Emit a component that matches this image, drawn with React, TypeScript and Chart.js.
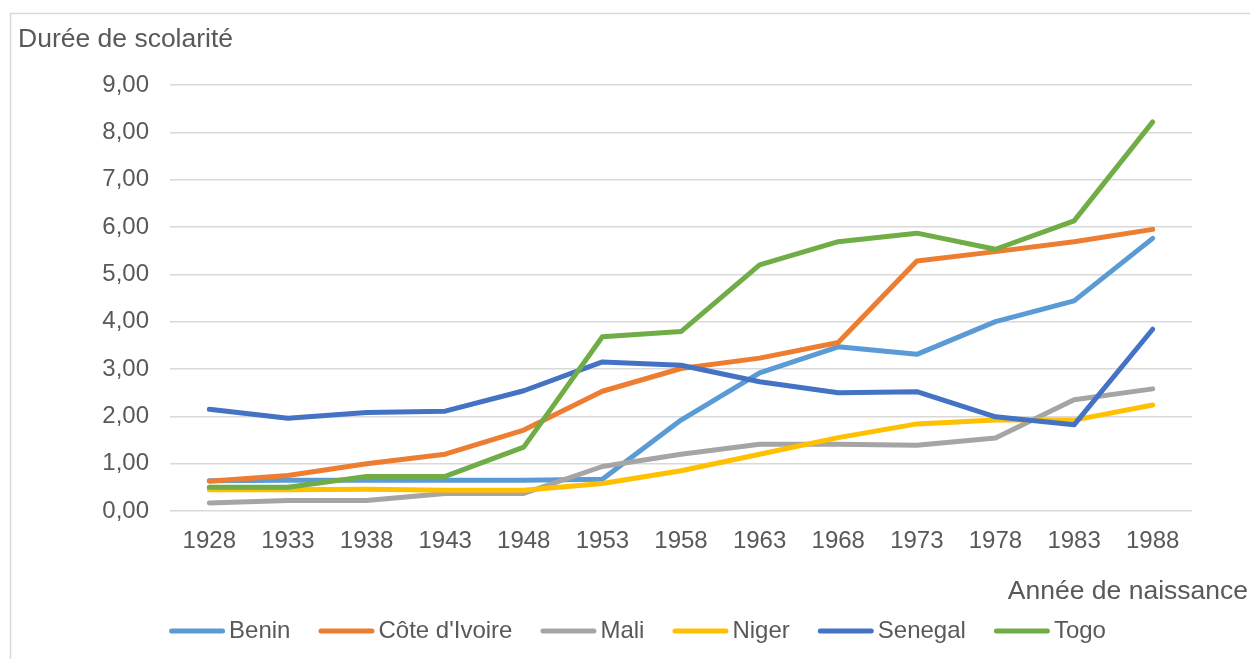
import React, { useEffect, useRef } from "react";
import { Chart, registerables } from "chart.js";

Chart.register(...registerables);

const years = ["1928", "1933", "1938", "1943", "1948", "1953", "1958", "1963", "1968", "1973", "1978", "1983", "1988"];
const seriesNames = ["Benin", "Côte d'Ivoire", "Mali", "Niger", "Senegal", "Togo"];
const seriesColors = ["#5B9BD5", "#ED7D31", "#A5A5A5", "#FFC000", "#4472C4", "#70AD47"];
const benin = [0.64, 0.65, 0.65, 0.65, 0.65, 0.67, 1.92, 2.92, 3.47, 3.31, 4.0, 4.44, 5.76];
const coteIvoire = [0.63, 0.75, 1.0, 1.2, 1.71, 2.53, 3.01, 3.23, 3.56, 5.28, 5.48, 5.69, 5.95];
const mali = [0.17, 0.22, 0.22, 0.37, 0.37, 0.94, 1.2, 1.41, 1.41, 1.39, 1.54, 2.35, 2.58];
const niger = [0.45, 0.45, 0.46, 0.44, 0.44, 0.58, 0.85, 1.2, 1.55, 1.84, 1.92, 1.92, 2.24];
const senegal = [2.15, 1.96, 2.08, 2.11, 2.54, 3.15, 3.08, 2.73, 2.5, 2.52, 1.99, 1.82, 3.84];
const togo = [0.5, 0.5, 0.73, 0.73, 1.35, 3.68, 3.79, 5.2, 5.69, 5.87, 5.53, 6.13, 8.22];
const yTitle = "Durée de scolarité";
const xTitle = "Année de naissance";

const FONT = "'Liberation Sans', Arial, sans-serif";
const TEXT = "#595959";

const decor = {
  id: "decor",
  beforeDraw(chart: any) {
    const ctx = chart.ctx;
    ctx.save();
    ctx.fillStyle = "#ffffff";
    ctx.fillRect(0, 0, chart.width, chart.height);
    ctx.restore();
  },
  afterDraw(chart: any) {
    const ctx = chart.ctx;
    ctx.save();
    // outer border
    ctx.strokeStyle = "#d9d9d9";
    ctx.lineWidth = 1.5;
    ctx.strokeRect(10.5, 13.5, 1400, 800);
    // titles
    ctx.fillStyle = TEXT;
    ctx.font = `26.5px ${FONT}`;
    ctx.textBaseline = "middle";
    ctx.textAlign = "left";
    ctx.fillText(yTitle, 18, 40);
    ctx.textAlign = "right";
    ctx.fillText(xTitle, 1248, 592);
    // legend
    ctx.font = `24px ${FONT}`;
    const lineW = 56;
    const gapText = 4;
    const gapItem = 28;
    const y = 631;
    const items = chart.data.datasets.map((d: any) => ({
      label: d.label,
      color: d.borderColor,
      w: ctx.measureText(d.label).width,
    }));
    let total = 0;
    items.forEach((it: any, i: number) => {
      total += lineW + gapText + it.w + (i < items.length - 1 ? gapItem : 0);
    });
    let x = 637.5 - total / 2;
    ctx.textAlign = "left";
    items.forEach((it: any) => {
      ctx.strokeStyle = it.color;
      ctx.lineWidth = 5;
      ctx.lineCap = "round";
      ctx.beginPath();
      ctx.moveTo(x + 2.5, y);
      ctx.lineTo(x + lineW - 2.5, y);
      ctx.stroke();
      ctx.fillStyle = TEXT;
      ctx.fillText(it.label, x + lineW + gapText, y);
      x += lineW + gapText + it.w + gapItem;
    });
    ctx.restore();
  },
};

export default function App() {
  const ref = useRef<HTMLCanvasElement | null>(null);
  useEffect(() => {
    if (!ref.current) return;
    const values = [benin, coteIvoire, mali, niger, senegal, togo];
    const chart = new Chart(ref.current, {
      type: "line",
      data: {
        labels: years,
        datasets: values.map((v, i) => ({
          label: seriesNames[i],
          data: v,
          borderColor: seriesColors[i],
          backgroundColor: seriesColors[i],
          borderWidth: 5,
          borderCapStyle: "round" as const,
          borderJoinStyle: "round" as const,
          pointRadius: 0,
          pointHoverRadius: 0,
          tension: 0,
          fill: false,
          order: values.length - i,
        })),
      },
      options: {
        animation: false,
        responsive: false,
        devicePixelRatio: 1,
        layout: { padding: { left: 0, top: 85, right: 58, bottom: 0 } },
        plugins: {
          legend: { display: false },
          title: { display: false },
          tooltip: { enabled: false },
        },
        scales: {
          x: {
            type: "category",
            offset: true,
            grid: { display: false },
            border: { display: false },
            ticks: {
              color: TEXT,
              font: { family: FONT, size: 24 },
              padding: 8,
              maxRotation: 0,
              autoSkip: false,
            },
            afterFit: (s: any) => {
              s.height = 148;
            },
          },
          y: {
            min: 0,
            max: 9,
            border: { display: false },
            grid: { color: "#d9d9d9", lineWidth: 1.5, drawTicks: false },
            ticks: {
              stepSize: 1,
              color: TEXT,
              font: { family: FONT, size: 24 },
              padding: 21,
              callback: (v: any) => Number(v).toFixed(2).replace(".", ","),
            },
            afterFit: (s: any) => {
              s.width = 170;
            },
          },
        },
      },
      plugins: [decor],
    });
    return () => chart.destroy();
  }, []);
  return (
    <canvas
      ref={ref}
      width={1250}
      height={659}
      style={{ position: "absolute", left: 0, top: 0, width: 1250, height: 659 }}
    />
  );
}
